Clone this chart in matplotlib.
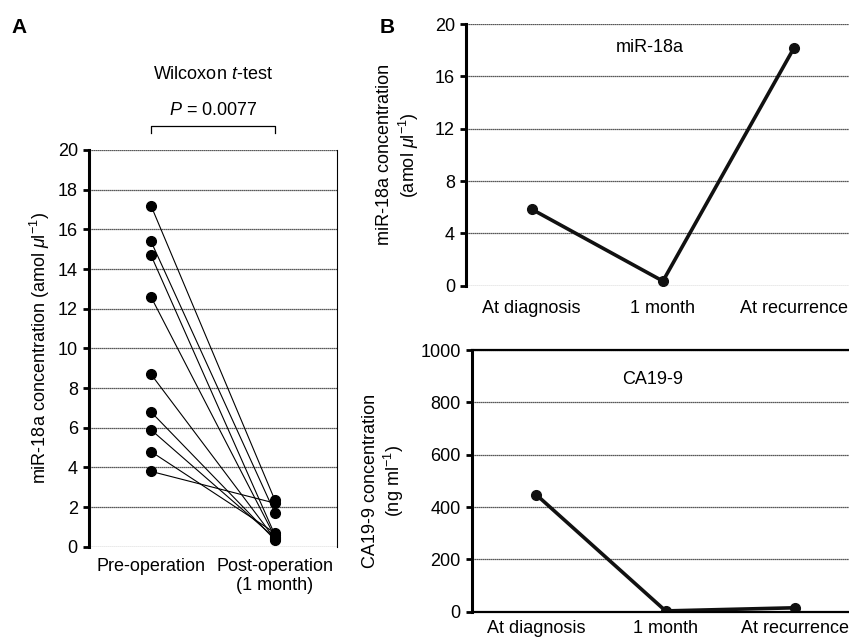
import matplotlib
matplotlib.use('Agg')
import matplotlib.pyplot as plt

plt.rcParams['font.family'] = ['Liberation Sans', 'DejaVu Sans']
plt.rcParams['mathtext.fontset'] = 'custom'
plt.rcParams['mathtext.rm'] = 'Liberation Sans'
plt.rcParams['mathtext.it'] = 'Liberation Sans:italic'

# panel A: paired values, pre-operation -> post-operation (1 month)
groupLabels = ['Pre-operation', 'Post-operation\n(1 month)']
preOp = [17.2, 15.4, 14.7, 12.6, 8.7, 6.8, 5.9, 4.8, 3.8]
postOp = [2.35, 1.7, 0.6, 0.5, 0.4, 0.35, 0.45, 0.7, 2.2]
pText = '$P$ = 0.0077'

# panel B: one patient over time
timeLabels = ['At diagnosis', '1 month', 'At recurrence']
mirValues = [5.85, 0.35, 18.2]
caValues = [447, 3, 15]

fs = 13
fig = plt.figure(figsize=(8.49, 6.41), dpi=100)

def styleAxis(ax, ymax, step, topSolid=False, bottomSolid=False):
  ax.set_ylim(0, ymax)
  ax.set_yticks(range(0, ymax + 1, step))
  ax.yaxis.grid(True, linestyle=(0, (1, 0.6)), color='#222222', linewidth=0.9)
  ax.set_axisbelow(True)
  ax.spines['left'].set_linewidth(2.2)
  ax.spines['top'].set_visible(topSolid)
  ax.spines['bottom'].set_visible(bottomSolid)
  ax.tick_params(axis='y', direction='out', length=4, width=2, labelsize=fs, pad=4)
  ax.tick_params(axis='x', length=0, labelsize=fs, pad=8)

# ---- panel A
axA = fig.add_axes([0.1048, 0.147, 0.292, 0.619])
for a, b in zip(preOp, postOp):
  axA.plot([0, 1], [a, b], '-', color='black', linewidth=0.8)
axA.plot([0] * len(preOp), preOp, 'o', color='black', markersize=7)
axA.plot([1] * len(postOp), postOp, 'o', color='black', markersize=7)
axA.set_xlim(-0.5, 1.5)
styleAxis(axA, 20, 2)
axA.spines['right'].set_linewidth(0.8)
axA.set_xticks([0, 1])
axA.set_xticklabels(groupLabels)
axA.set_ylabel(r'miR-18a concentration (amol $\mu$l$^{-1}$)', fontsize=fs, labelpad=4)
axA.set_ylim(0, 20)

# significance bracket
axA.plot([0, 0, 1, 1], [20.85, 21.2, 21.2, 20.85], color='black', linewidth=0.9, clip_on=False)
axA.text(0.5, 22.0, pText, ha='center', va='center', fontsize=fs)
axA.text(0.5, 23.8, 'Wilcoxon $t$-test', ha='center', va='center', fontsize=fs)
fig.text(0.014, 0.948, 'A', fontsize=15, fontweight='bold')

# ---- panel B top
axB1 = fig.add_axes([0.549, 0.5543, 0.4636, 0.408])
axB1.plot(range(3), mirValues, '-o', color='#111111', linewidth=2.6, markersize=7)
axB1.set_xlim(-0.5, 2.5)
styleAxis(axB1, 20, 4)
axB1.spines['right'].set_visible(False)
axB1.set_xticks(range(3))
axB1.set_xticklabels(timeLabels)
axB1.tick_params(axis='x', pad=10)
axB1.set_ylabel('miR-18a concentration\n' + r'(amol $\mu$l$^{-1}$)', fontsize=fs, labelpad=10)
axB1.text(0.9, 18.2, 'miR-18a', ha='center', va='center', fontsize=fs)
fig.text(0.447, 0.948, 'B', fontsize=15, fontweight='bold')

# ---- panel B bottom
axB2 = fig.add_axes([0.5556, 0.0457, 0.4568, 0.408])
axB2.plot(range(3), caValues, '-o', color='#111111', linewidth=2.6, markersize=7)
axB2.set_xlim(-0.5, 2.5)
styleAxis(axB2, 1000, 200, topSolid=True, bottomSolid=True)
axB2.spines['top'].set_linewidth(1.6)
axB2.spines['bottom'].set_linewidth(1.6)
axB2.spines['right'].set_visible(False)
axB2.set_xticks(range(3))
axB2.set_xticklabels(timeLabels)
axB2.tick_params(axis='x', pad=6)
axB2.set_ylabel('CA19-9 concentration\n' + r'(ng ml$^{-1}$)', fontsize=fs, labelpad=10)
axB2.text(0.9, 888, 'CA19-9', ha='center', va='center', fontsize=fs)

plt.savefig('out.png', dpi=100)
plt.close()
